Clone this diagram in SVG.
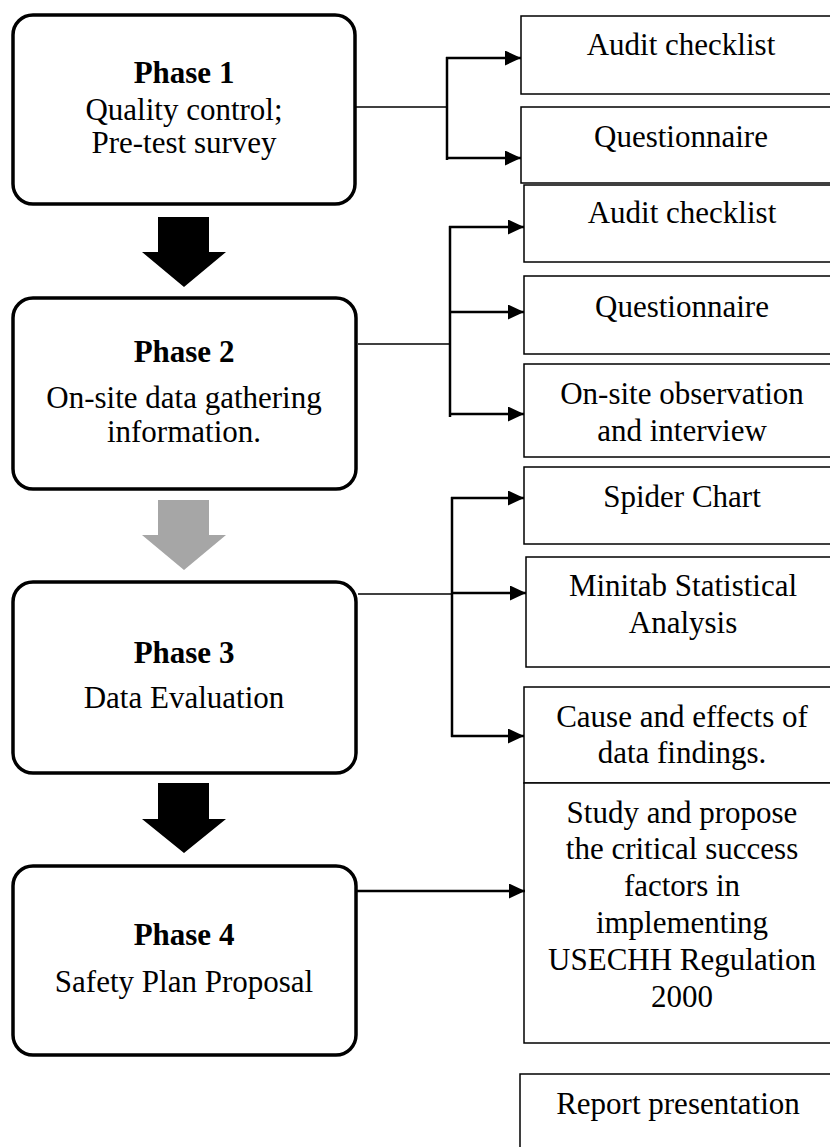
<svg xmlns="http://www.w3.org/2000/svg" width="830" height="1147" viewBox="0 0 830 1147">
<style>
.phase{fill:#fff;stroke:#000;stroke-width:3.5}
.box{fill:#fff;stroke:#000;stroke-width:1.5}
text{font-family:"Liberation Serif","Times New Roman",serif;font-size:31px;fill:#000;text-anchor:middle}
.b{font-weight:bold}
.thin{fill:none;stroke:#000;stroke-width:1.5}
.thick{fill:none;stroke:#000;stroke-width:2.5}
</style>
<defs>
<marker id="ah" markerWidth="16" markerHeight="15" refX="16" refY="7.5" orient="auto" markerUnits="userSpaceOnUse">
<path d="M0,0 L16,7.5 L0,15 Z" fill="#000"/>
</marker>
</defs>

<g id="phase1"><rect class="phase" x="13" y="15" width="342" height="189" rx="20"/>
<text class="b" x="184" y="83">Phase 1</text>
<text x="184" y="120">Quality control;</text>
<text x="184" y="153">Pre-test survey</text></g>

<g id="phase2"><rect class="phase" x="13" y="298" width="343" height="191" rx="20"/>
<text class="b" x="184" y="362">Phase 2</text>
<text x="184" y="408">On-site data gathering</text>
<text x="184" y="442">information.</text></g>

<g id="phase3"><rect class="phase" x="13" y="582" width="343" height="191" rx="20"/>
<text class="b" x="184" y="663">Phase 3</text>
<text x="184" y="708">Data Evaluation</text></g>

<g id="phase4"><rect class="phase" x="13" y="866" width="343" height="189" rx="20"/>
<text class="b" x="184" y="945">Phase 4</text>
<text x="184" y="992">Safety Plan Proposal</text></g>

<g id="flow-arrows">
<polygon points="158,217 209,217 209,252 226,252 184,287 142,252 158,252" fill="#000"/>
<polygon points="158,500 209,500 209,535 226,535 184,570 142,535 158,535" fill="#a6a6a6"/>
<polygon points="158,783 209,783 209,819 226,819 184,853 142,819 158,819" fill="#000"/>
</g>

<g id="audit1"><rect class="box" x="521" y="16" width="320" height="78"/><text x="681" y="55">Audit checklist</text></g>
<g id="quest1"><rect class="box" x="521" y="107" width="320" height="76"/><text x="681" y="147">Questionnaire</text></g>
<g id="audit2"><rect class="box" x="524" y="185" width="317" height="77"/><text x="682" y="223">Audit checklist</text></g>
<g id="quest2"><rect class="box" x="524" y="276" width="317" height="78"/><text x="682" y="317">Questionnaire</text></g>
<g id="onsite"><rect class="box" x="524" y="364" width="317" height="93"/><text x="682" y="404">On-site observation</text><text x="682" y="441">and interview</text></g>
<g id="spider"><rect class="box" x="524" y="467" width="317" height="77"/><text x="682" y="507">Spider Chart</text></g>
<g id="minitab"><rect class="box" x="526" y="557" width="315" height="110"/><text x="683" y="596">Minitab Statistical</text><text x="683" y="633">Analysis</text></g>
<g id="cause"><rect class="box" x="524" y="687" width="317" height="96"/><text x="682" y="727">Cause and effects of</text><text x="682" y="763">data findings.</text></g>
<g id="study"><rect class="box" x="524" y="783" width="317" height="260"/>
<text x="682" y="823">Study and propose</text>
<text x="682" y="859">the critical success</text>
<text x="682" y="896">factors in</text>
<text x="682" y="933">implementing</text>
<text x="682" y="970">USECHH Regulation</text>
<text x="682" y="1007">2000</text></g>
<g id="report"><rect class="box" x="520" y="1074" width="321" height="90"/><text x="678" y="1114">Report presentation</text></g>

<g id="connectors">
<path class="thin" d="M355,107 H447"/>
<path class="thick" d="M447,57 V160"/>
<path class="thick" d="M446,58 H521" marker-end="url(#ah)"/>
<path class="thick" d="M446,158 H521" marker-end="url(#ah)"/>

<path class="thin" d="M358,344 H450"/>
<path class="thick" d="M450,226 V417"/>
<path class="thick" d="M449,227 H524" marker-end="url(#ah)"/>
<path class="thick" d="M450,312 H524" marker-end="url(#ah)"/>
<path class="thick" d="M450,414 H524" marker-end="url(#ah)"/>

<path class="thin" d="M358,594 H452"/>
<path class="thick" d="M452,497 V737"/>
<path class="thick" d="M451,498 H524" marker-end="url(#ah)"/>
<path class="thick" d="M452,593 H526" marker-end="url(#ah)"/>
<path class="thick" d="M451,736 H524" marker-end="url(#ah)"/>

<path class="thick" d="M356,891 H525" marker-end="url(#ah)"/>
</g>
</svg>
